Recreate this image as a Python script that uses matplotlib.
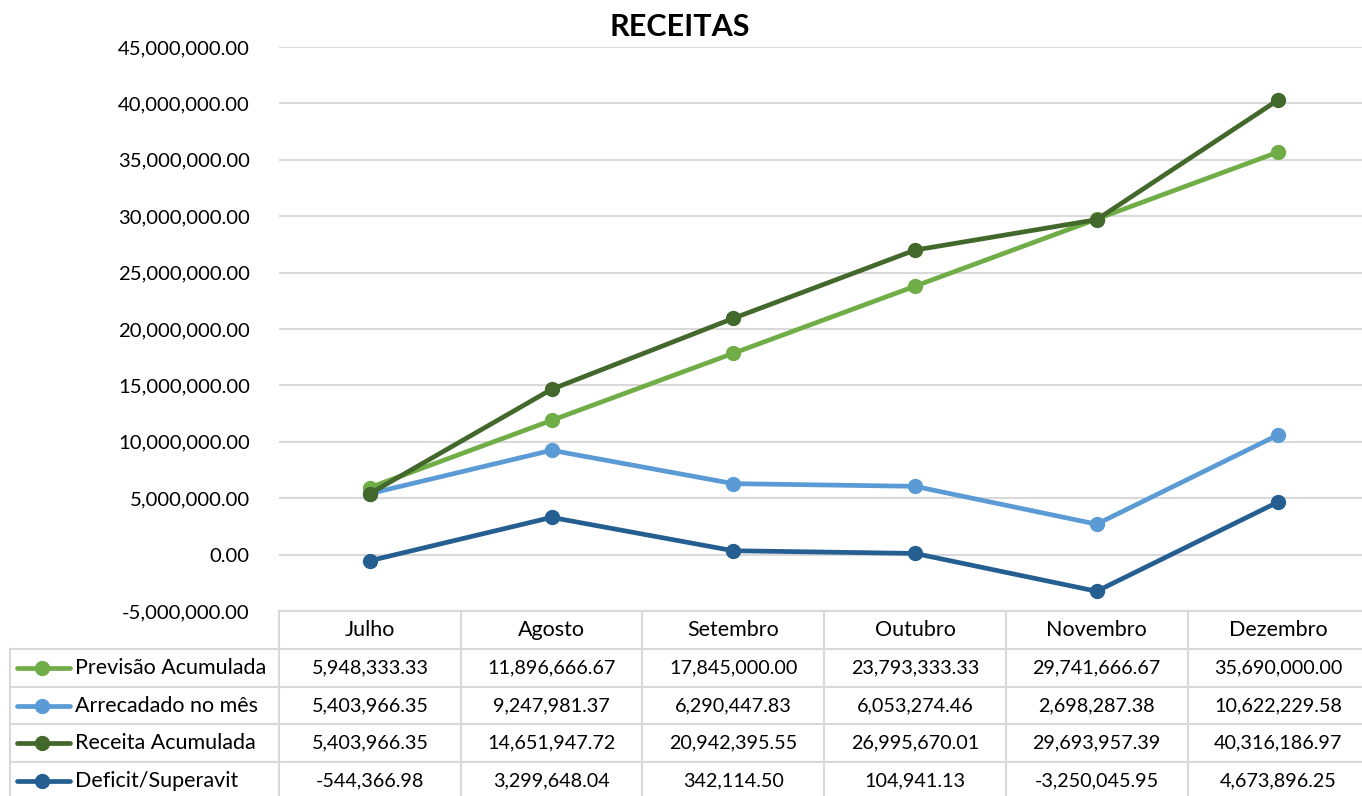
import matplotlib.pyplot as plt
import numpy as np
from matplotlib.ticker import FuncFormatter

plt.rcParams['font.family'] = ['Lato', 'DejaVu Sans']

# data
meses = ["Julho", "Agosto", "Setembro", "Outubro", "Novembro", "Dezembro"]
previsao = [5948333.33, 11896666.67, 17845000.00, 23793333.33, 29741666.67, 35690000.00]
arrecadado = [5403966.35, 9247981.37, 6290447.83, 6053274.46, 2698287.38, 10622229.58]
receita = [5403966.35, 14651947.72, 20942395.55, 26995670.01, 29693957.39, 40316186.97]
deficit = [-544366.98, 3299648.04, 342114.50, 104941.13, -3250045.95, 4673896.25]

series = [
    ("Previsão Acumulada", previsao, "#70AD47"),
    ("Arrecadado no mês", arrecadado, "#5B9BD5"),
    ("Receita Acumulada", receita, "#43682B"),
    ("Deficit/Superavit", deficit, "#255E91"),
]

W, H = 1362, 796
fig = plt.figure(figsize=(W / 100, H / 100), dpi=100)

# plot area in pixels
x0, col_w, y_top, y_bot = 279, 181.7, 47, 611
ax = fig.add_axes([x0 / W, (H - y_bot) / H, 6 * col_w / W, (y_bot - y_top) / H])

x = np.arange(len(meses))
for name, vals, col in series:
    ax.plot(x, vals, color=col, lw=3.4, marker="o", ms=10, solid_capstyle="round")

ax.set_xlim(-0.5, len(meses) - 0.5)
ax.set_ylim(-5e6, 45e6)
ax.set_yticks(np.arange(-5e6, 45e6 + 1, 5e6))
ax.yaxis.set_major_formatter(FuncFormatter(lambda v, p: f"{v:,.2f}"))
ax.tick_params(axis="y", length=0, pad=21, labelsize=14.6)
ax.set_xticks([])
ax.grid(axis="y", color="#D9D9D9", lw=1.5)
ax.set_axisbelow(True)
for s in ax.spines.values():
    s.set_visible(False)

fig.text(680 / W, 1 - 27 / H, "RECEITAS", ha="center", va="center",
         fontsize=22, fontweight="bold")

# data table below the plot
tab = fig.add_axes([0, 0, 1, 1])
tab.set_xlim(0, W)
tab.set_ylim(H, 0)
tab.axis("off")
tab.patch.set_alpha(0)

grid_c = "#D9D9D9"
rows_y = [611, 649, 687, 724, 762, 800]
x_right = x0 + 6 * col_w
tab.plot([x0, x_right], [rows_y[0]] * 2, color=grid_c, lw=1.5)
for yy in rows_y[1:]:
    tab.plot([10, x_right], [yy] * 2, color=grid_c, lw=1.5)
tab.plot([10, 10], [rows_y[1], H], color=grid_c, lw=1.5)
for k in range(7):
    xx = x0 + k * col_w
    tab.plot([xx, xx], [rows_y[0], H], color=grid_c, lw=1.5)

for k, m in enumerate(meses):
    tab.text(x0 + (k + 0.5) * col_w, (rows_y[0] + rows_y[1]) / 2, m,
             ha="center", va="center", fontsize=15.5)

for i, (name, vals, col) in enumerate(series):
    yc = (rows_y[i + 1] + rows_y[i + 2]) / 2
    tab.plot([17, 70], [yc, yc], color=col, lw=3.4, solid_capstyle="round")
    tab.plot([42], [yc], marker="o", ms=10, color=col)
    tab.text(75, yc, name, ha="left", va="center", fontsize=15.5)
    for k, v in enumerate(vals):
        tab.text(x0 + (k + 0.5) * col_w, yc, f"{v:,.2f}",
                 ha="center", va="center", fontsize=14.2)

fig.savefig("out.png", dpi=100)
